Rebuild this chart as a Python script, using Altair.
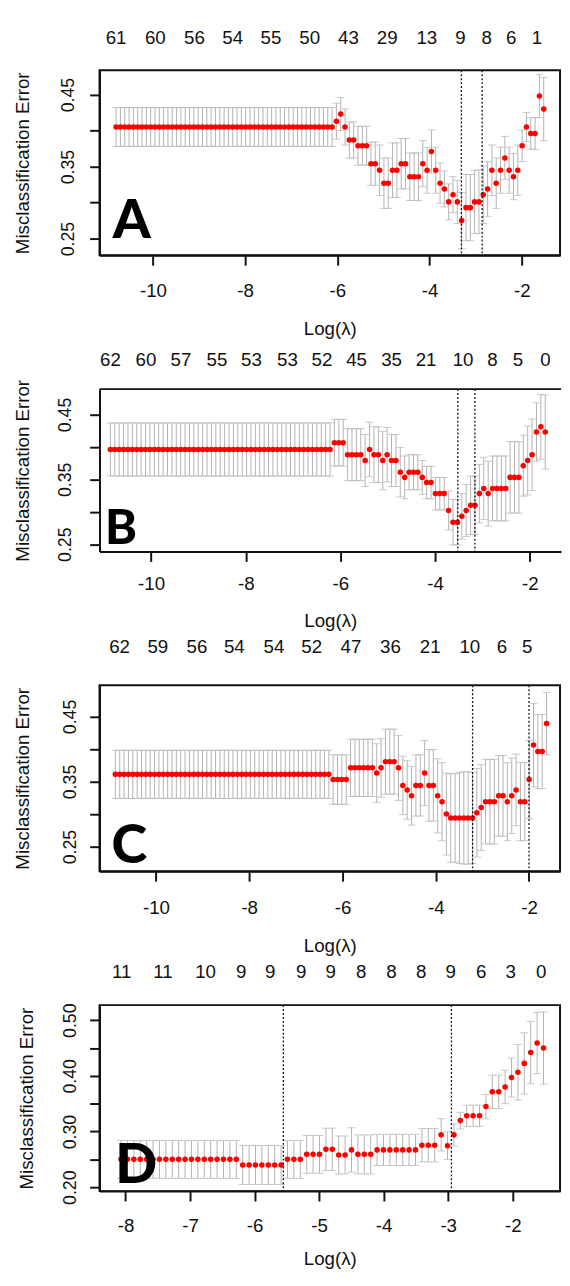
import altair as alt
import pandas as pd
import numpy as np

FONT = "Liberation Sans"
LETTER_FONT = "Lato"
INK = "#111111"
BAR = "#b3b3b3"

# ---------------- Panel A ----------------
a_x_start, a_x_step = -10.80, 0.0937
a_mean = ([0.405] * 51 +
          [0.413, 0.423, 0.405, 0.387, 0.387, 0.379, 0.379, 0.379, 0.354, 0.354,
           0.345, 0.327, 0.327, 0.345, 0.345, 0.354, 0.354, 0.336, 0.336, 0.336,
           0.354, 0.345, 0.371, 0.345, 0.327, 0.319, 0.301, 0.311, 0.301, 0.275,
           0.293, 0.293, 0.301, 0.301, 0.311, 0.319, 0.345, 0.327, 0.345, 0.362,
           0.345, 0.336, 0.345] +
          [0.379, 0.405, 0.396, 0.396, 0.448, 0.430])
a_sd = ([0.027] * 51 +
        [0.025, 0.023, 0.025, 0.025, 0.025, 0.027, 0.027, 0.027, 0.030, 0.030,
         0.035, 0.035, 0.035, 0.038, 0.038, 0.035, 0.035, 0.033, 0.033, 0.033,
         0.032, 0.032, 0.030, 0.032, 0.028, 0.025, 0.025, 0.025, 0.030, 0.039,
         0.046, 0.046, 0.044, 0.044, 0.040, 0.038, 0.035, 0.035, 0.032, 0.030,
         0.032, 0.032, 0.035] +
        [0.022, 0.020, 0.022, 0.022, 0.030, 0.044])
a_top_pos = [-10.8, -9.95, -9.1, -8.27, -7.44, -6.6, -5.76, -4.92, -4.06, -3.33, -2.76, -2.23, -1.67]
a_top_lab = ["61", "60", "56", "54", "55", "50", "43", "29", "13", "9", "8", "6", "1"]
a_vlines = [-3.31, -2.86]
a_xticks = [-10, -8, -6, -4, -2]
a_yticks = [0.25, 0.30, 0.35, 0.40, 0.45]
a_ylabels = ["0.25", "0.35", "0.45"]

# ---------------- Panel B ----------------
b_x_start, b_x_step = -10.86, 0.0928
b_mean = ([0.396] * 51 +
          [0.4065] * 3 + [0.388] * 4 +
          [0.379, 0.396, 0.388, 0.388, 0.379, 0.388, 0.379, 0.379, 0.361, 0.353,
           0.361, 0.361, 0.361, 0.353, 0.345, 0.345, 0.328, 0.328, 0.328, 0.302,
           0.284, 0.284, 0.293, 0.302, 0.310, 0.310, 0.328, 0.336, 0.328, 0.336,
           0.336, 0.336, 0.336, 0.353, 0.353, 0.353, 0.371, 0.379, 0.388, 0.423,
           0.431, 0.423])
b_sd = ([0.041] * 51 +
        [0.036] * 3 + [0.040] * 4 +
        [0.040, 0.042, 0.043, 0.043, 0.045, 0.042, 0.040, 0.040, 0.038, 0.033,
         0.027, 0.027, 0.027, 0.026, 0.025, 0.025, 0.025, 0.025, 0.025, 0.030,
         0.035, 0.035, 0.035, 0.040, 0.045, 0.045, 0.045, 0.048, 0.050, 0.050,
         0.050, 0.050, 0.050, 0.055, 0.055, 0.055, 0.047, 0.053, 0.055, 0.045,
         0.050, 0.057])
b_top_pos = [-10.86, -10.11, -9.37, -8.61, -7.88, -7.12, -6.39, -5.66, -4.92, -4.19, -3.41, -2.79, -2.25, -1.67]
b_top_lab = ["62", "60", "57", "55", "53", "53", "52", "45", "35", "21", "10", "8", "5", "0"]
b_vlines = [-3.52, -3.16]
b_xticks = [-10, -8, -6, -4, -2]
b_yticks = [0.25, 0.30, 0.35, 0.40, 0.45]
b_ylabels = ["0.25", "0.35", "0.45"]

# ---------------- Panel C ----------------
c_x_start, c_x_step = -10.87, 0.0934
c_mean = ([0.361] * 50 +
          [0.353] * 4 + [0.371] * 6 + [0.363, 0.371] + [0.3805] * 3 +
          [0.371, 0.344, 0.337, 0.328, 0.344, 0.344, 0.363, 0.344, 0.344, 0.328, 0.319, 0.300] +
          [0.294] * 6 +
          [0.302, 0.310, 0.319, 0.319, 0.319, 0.328, 0.328, 0.319, 0.328, 0.337,
           0.319, 0.319, 0.353, 0.406, 0.396, 0.396, 0.439])
c_sd = ([0.037] * 50 +
        [0.038] * 4 + [0.044] * 6 + [0.045, 0.045] + [0.050] * 3 +
        [0.050, 0.045, 0.045, 0.045, 0.047, 0.047, 0.050, 0.055, 0.055, 0.057, 0.060, 0.063] +
        [0.068, 0.068, 0.070, 0.071, 0.071, 0.070] +
        [0.068, 0.066, 0.065, 0.065, 0.065, 0.062, 0.062, 0.060, 0.058, 0.055,
         0.060, 0.060, 0.060, 0.064, 0.057, 0.057, 0.048])
c_top_pos = [-10.78, -9.96, -9.12, -8.32, -7.47, -6.66, -5.82, -4.97, -4.12, -3.27, -2.58, -2.04]
c_top_lab = ["62", "59", "56", "54", "54", "52", "47", "36", "21", "10", "6", "5"]
c_vlines = [-3.21, -2.0]
c_xticks = [-10, -8, -6, -4, -2]
c_yticks = [0.25, 0.30, 0.35, 0.40, 0.45]
c_ylabels = ["0.25", "0.35", "0.45"]

# ---------------- Panel D ----------------
d_x_start, d_x_step = -8.07, 0.0992
d_mean = ([0.250] * 19 + [0.240] * 7 + [0.250] * 3 + [0.259] * 3 + [0.268] * 2 +
          [0.258] * 2 + [0.267] + [0.259] * 3 + [0.267] * 7 + [0.2755] * 3 +
          [0.294, 0.2745, 0.294, 0.3196] + [0.3284] * 3 +
          [0.3448, 0.3713, 0.3713, 0.380, 0.397, 0.4065, 0.4224, 0.4418, 0.4589, 0.450])
d_sd = ([0.034] * 19 + [0.035] * 7 + [0.034] * 3 + [0.034] * 3 + [0.038] * 2 +
        [0.034] * 2 + [0.040] + [0.035] * 3 + [0.028] * 7 + [0.030] * 3 +
        [0.029, 0.025, 0.020, 0.015] + [0.019] * 3 +
        [0.022, 0.030, 0.030, 0.030, 0.035, 0.050, 0.055, 0.056, 0.055, 0.065])
d_top_pos = [-8.06, -7.42, -6.76, -6.21, -5.76, -5.28, -4.82, -4.35, -3.88, -3.42, -2.96, -2.49, -2.03, -1.56]
d_top_lab = ["11", "11", "10", "9", "9", "9", "9", "8", "8", "8", "9", "6", "3", "0"]
d_vlines = [-5.555, -2.95]
d_xticks = [-8, -7, -6, -5, -4, -3, -2]
d_yticks = [0.20, 0.25, 0.30, 0.35, 0.40, 0.45, 0.50]
d_ylabels = ["0.20", "0.30", "0.40", "0.50"]

panel_letters = ["A", "B", "C", "D"]


def panel(letter, x_start, x_step, mean, sd, top_pos, top_lab, vlines,
          xticks, yticks, ylabels, xdom, ydom, W, H, top_dy,
          letter_dx, letter_dy, letter_size, xlab_pad, xtitle_y,
          ylab_pad, ytitle_x, open_right=False, anchor_box=None):
    n = len(mean)
    xs = np.round(x_start + x_step * np.arange(n), 4)
    m = np.array(mean)
    s = np.array(sd)
    df = pd.DataFrame({"x": xs, "m": m, "lo": m - s, "hi": m + s})

    xscale = alt.Scale(domain=xdom, nice=False, zero=False)
    yscale = alt.Scale(domain=ydom, nice=False, zero=False)
    lab_list = "[" + ",".join("'%s'" % v for v in ylabels) + "]"
    xaxis = alt.Axis(values=xticks, labelExpr="datum.value + ''", title="Log(λ)",
                     titleY=xtitle_y, titleBaseline="alphabetic",
                     labelPadding=xlab_pad, labelBaseline="alphabetic")
    yaxis = alt.Axis(values=yticks,
                     labelExpr="indexof(%s, format(datum.value, '.2f')) >= 0 ? format(datum.value, '.2f') : ''" % lab_list,
                     title="Misclassification Error", titleX=ytitle_x, titleY=H / 2,
                     titleAngle=270, titleAlign="center", titleBaseline="alphabetic",
                     labelAngle=270, labelAlign="center", labelBaseline="alphabetic",
                     labelPadding=ylab_pad, labelFontSize=18)

    def X(f):
        return alt.X(f, type="quantitative", scale=xscale, axis=xaxis)

    def Y(f):
        return alt.Y(f, type="quantitative", scale=yscale, axis=yaxis)

    base = alt.Chart(df)
    bars = base.mark_rule(color=BAR, strokeWidth=1).encode(x=X("x"), y=Y("lo"), y2="hi")
    cap_hi = base.mark_tick(orient="horizontal", size=8, thickness=1, color=BAR).encode(x=X("x"), y=Y("hi"))
    cap_lo = base.mark_tick(orient="horizontal", size=8, thickness=1, color=BAR).encode(x=X("x"), y=Y("lo"))
    pts = base.mark_circle(color="#ff0000", size=32, opacity=1).encode(x=X("x"), y=Y("m"))
    vl = alt.Chart(pd.DataFrame({"v": vlines})).mark_rule(
        color=INK, strokeDash=[2, 2], strokeWidth=1.3).encode(x=X("v"))
    top = alt.Chart(pd.DataFrame({"p": top_pos, "t": top_lab})).mark_text(
        font=FONT, fontSize=19, baseline="middle", align="center", color=INK).encode(
        x=X("p"), y=alt.value(top_dy), text="t:N")
    let = alt.Chart(pd.DataFrame({"t": [letter]})).mark_text(
        font=LETTER_FONT, fontWeight=900, fontSize=letter_size, align="left",
        baseline="alphabetic", color="black").encode(
        x=alt.value(letter_dx), y=alt.value(letter_dy), text="t:N")
    layers = [bars, cap_hi, cap_lo, pts, vl, top, let]
    props = dict(width=W, height=H)
    if open_right:
        frame_top = alt.Chart(pd.DataFrame({"t": [letter]})).mark_rule(
            color=INK, strokeWidth=2).encode(x=alt.value(0), x2=alt.value(W), y=alt.value(0))
        layers.append(frame_top)
        props["view"] = alt.ViewBackground(strokeOpacity=0)
    if anchor_box is not None:
        # invisible guide fixing the page margins around the first panel
        guide = alt.Chart(pd.DataFrame({"t": [letter]})).mark_rule(
            strokeOpacity=0, opacity=0).encode(
            x=alt.value(-anchor_box[0]), x2=alt.value(0), y=alt.value(-anchor_box[1]))
        layers.append(guide)
    return alt.layer(*layers).properties(**props)


A = panel(panel_letters[0], a_x_start, a_x_step, a_mean, a_sd, a_top_pos, a_top_lab, a_vlines,
          a_xticks, a_yticks, a_ylabels, [-11.16, -1.17], [0.2268, 0.4837], 468, 188, -32.6,
          13.5, 170, 55, 32, 80.5, 16, -72, anchor_box=(92, 51.3))
B = panel(panel_letters[1], b_x_start, b_x_step, b_mean, b_sd, b_top_pos, b_top_lab, b_vlines,
          b_xticks, b_yticks, b_ylabels, [-11.09, -1.34], [0.2388, 0.489], 469, 165, -29.3,
          5.5, 157.3, 49, 29, 76.5, 19.5, -72, open_right=True)
C = panel(panel_letters[2], c_x_start, c_x_step, c_mean, c_sd, c_top_pos, c_top_lab, c_vlines,
          c_xticks, c_yticks, c_ylabels, [-11.21, -1.335], [0.212, 0.4978], 468, 189, -38.4,
          12.3, 180.5, 55, 32.5, 81.5, 14.2, -72)
D = panel(panel_letters[3], d_x_start, d_x_step, d_mean, d_sd, d_top_pos, d_top_lab, d_vlines,
          d_xticks, d_yticks, d_ylabels, [-8.404, -1.267], [0.193, 0.527], 468, 189, -33.4,
          16, 181, 56, 31.5, 74.5, 14.2, -68.5)

chart = alt.vconcat(A, B, C, D, spacing=136, bounds="flush").properties(
    padding={"left": 0, "top": 0, "right": 0, "bottom": 0}
).configure_view(
    stroke=INK, strokeWidth=2
).configure_axis(
    grid=False, domain=True, domainColor=INK, domainWidth=2,
    ticks=True, tickColor=INK, tickWidth=2, tickSize=10,
    labelFont=FONT, labelFontSize=19, labelColor=INK,
    titleFont=FONT, titleFontSize=19, titleFontWeight="normal", titleColor=INK
)

chart.save("out.html", embed_options={"renderer": "svg", "actions": False})
